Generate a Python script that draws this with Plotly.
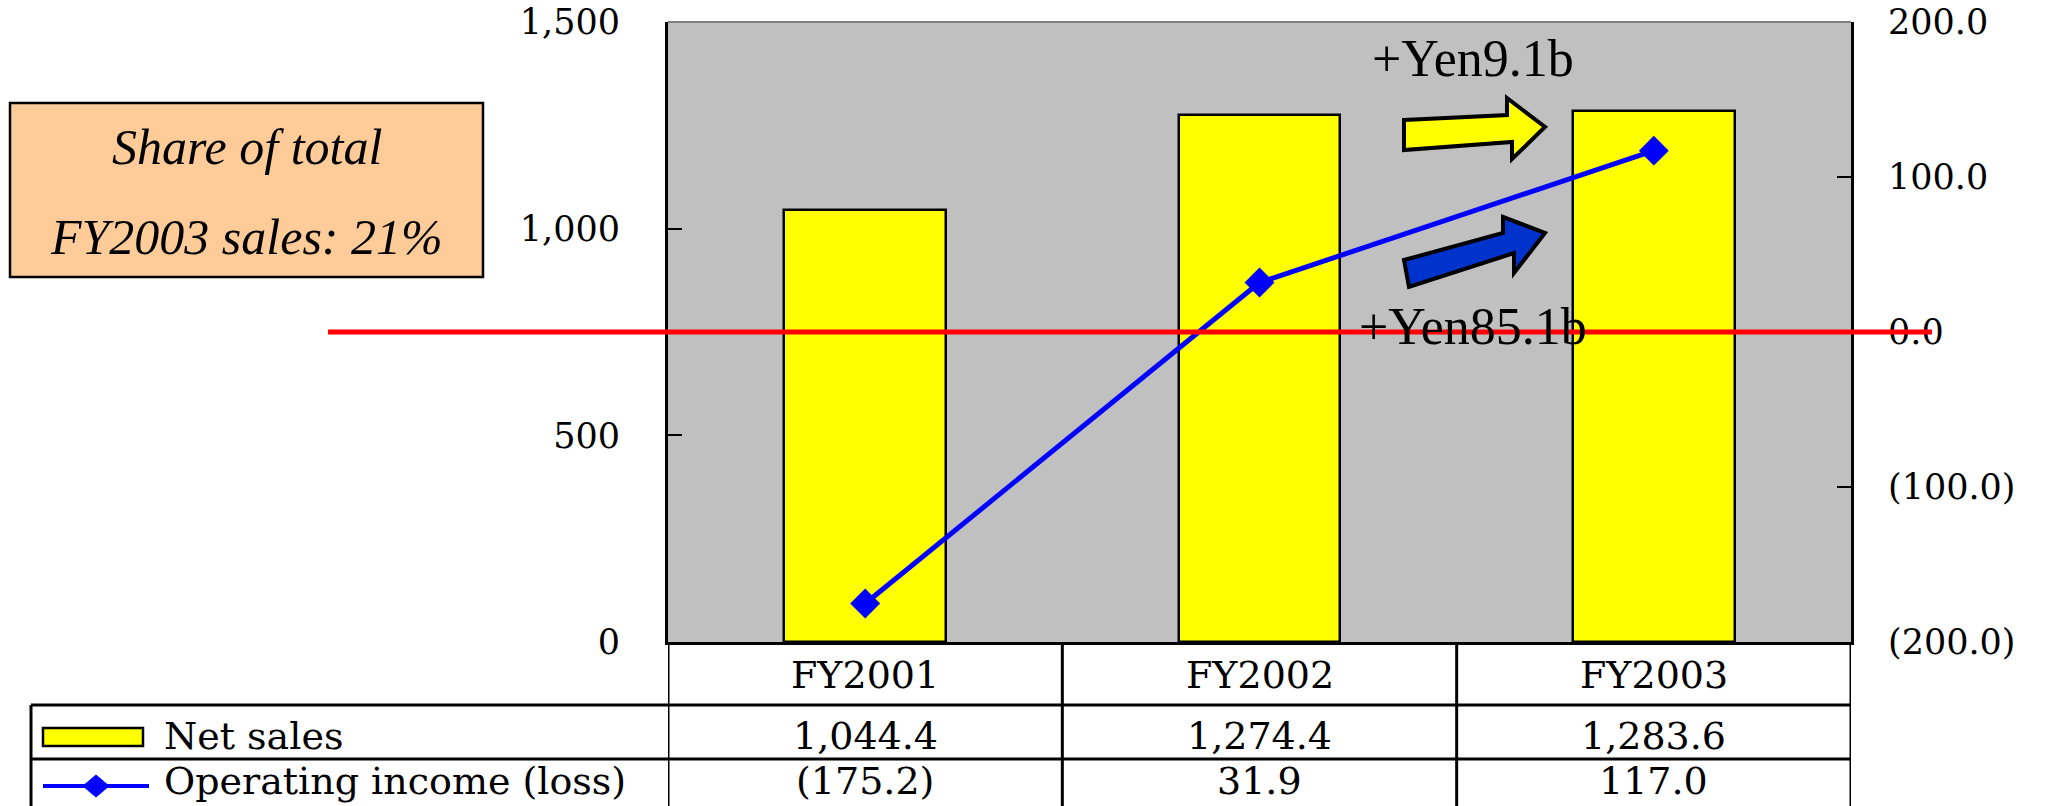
import plotly.graph_objects as go

# ---- data ----
fiscal_years = ["FY2001", "FY2002", "FY2003"]
net_sales = [1044.4, 1274.4, 1283.6]          # left axis (Yen b)
operating_income = [-175.2, 31.9, 117.0]      # right axis (Yen b)
sales_ticks = [0, 500, 1000, 1500]
income_ticks = [-200, -100, 0, 100, 200]
row_labels = ["Net sales", "Operating income (loss)"]
sales_change_label = "+Yen9.1b"
income_change_label = "+Yen85.1b"
share_note = ["Share of total", "FY2003 sales: 21%"]

# ---- page geometry (pixels) ----
W, H = 2051, 806
PL, PR, PT, PB = 668, 1851, 22, 642   # plot area edges


def paper(x, y):
    """Convert a page pixel position to paper coordinates."""
    return (x - PL) / (PR - PL), (PB - y) / (PB - PT)


def fmt_sales(v):
    return f"{v:,.1f}"


def fmt_income(v):
    return f"({abs(v):.1f})" if v < 0 else f"{v:.1f}"


SERIF = "DejaVu Serif"
TIMES = "Liberation Serif"
xs = list(range(len(fiscal_years)))

fig = go.Figure()
fig.add_trace(go.Bar(
    x=xs, y=net_sales, width=0.41, yaxis="y",
    marker=dict(color="#FFFF00", line=dict(color="black", width=2.5)),
    name=row_labels[0],
))
fig.add_trace(go.Scatter(
    x=xs, y=operating_income, yaxis="y2", mode="lines+markers",
    line=dict(color="#0000FF", width=5),
    marker=dict(symbol="diamond", size=23, color="#0000FF"),
    name=row_labels[1],
))

shapes = []
annotations = []

# plot frame top edge
shapes.append(dict(type="line", xref="paper", yref="paper", x0=0, x1=1, y0=1, y1=1,
                   line=dict(color="#808080", width=2), layer="above"))

# zero line of the income axis, running past the plot area
x0p, _ = paper(328, 0)
x1p, _ = paper(1932, 0)
shapes.append(dict(type="line", xref="paper", yref="y2", x0=x0p, x1=x1p, y0=0, y1=0,
                   line=dict(color="#FF0000", width=5), layer="above"))


def poly(points):
    pts = [paper(x, y) for x, y in points]
    return "M " + " L ".join(f"{a:.5f},{b:.5f}" for a, b in pts) + " Z"


# change arrows
shapes.append(dict(type="path", xref="paper", yref="paper", layer="above",
                   path=poly([(1404, 120), (1507, 115), (1507, 98), (1545, 127),
                              (1512, 159), (1512, 142), (1404, 150)]),
                   fillcolor="#FFFF00", line=dict(color="black", width=4)))
shapes.append(dict(type="path", xref="paper", yref="paper", layer="above",
                   path=poly([(1404, 260), (1503, 233), (1503, 217), (1545, 233),
                              (1514, 273), (1514, 253), (1409, 287)]),
                   fillcolor="#0033CC", line=dict(color="black", width=4)))

# share note box
bx0, by0 = paper(10, 103)
bx1, by1 = paper(483, 277)
shapes.append(dict(type="rect", xref="paper", yref="paper", x0=bx0, x1=bx1, y0=by1, y1=by0,
                   fillcolor="#FFCC99", line=dict(color="black", width=2.5), layer="above"))
for text, yy in zip(share_note, (147, 237)):
    ax, ay = paper(247, yy)
    annotations.append(dict(xref="paper", yref="paper", x=ax, y=ay, text=text,
                            showarrow=False, xanchor="center", yanchor="middle",
                            font=dict(family=TIMES, size=50, style="italic", color="black")))

# change labels
for text, yy in ((sales_change_label, 58), (income_change_label, 326)):
    ax, ay = paper(1473, yy)
    annotations.append(dict(xref="paper", yref="paper", x=ax, y=ay, text=text,
                            showarrow=False, xanchor="center", yanchor="middle",
                            font=dict(family=TIMES, size=52, color="black")))

# ---- data table under the chart ----
TABLE_LINE = dict(color="black", width=3)
_, y_head = paper(0, 642)
_, y_r1 = paper(0, 705)
_, y_r2 = paper(0, 759)
_, y_end = paper(0, 840)
tx_left, _ = paper(31, 0)

for yy in (y_r1, y_r2):
    shapes.append(dict(type="line", xref="paper", yref="paper", x0=tx_left, x1=1,
                       y0=yy, y1=yy, line=TABLE_LINE, layer="above"))
shapes.append(dict(type="line", xref="paper", yref="paper", x0=tx_left, x1=tx_left,
                   y0=y_r1, y1=y_end, line=TABLE_LINE, layer="above"))
for b in [i - 0.5 for i in range(len(fiscal_years) + 1)]:
    shapes.append(dict(type="line", xref="x", yref="paper", x0=b, x1=b,
                       y0=y_head, y1=y_end, line=TABLE_LINE, layer="above"))

_, y_txt_head = paper(0, 675)
_, y_txt_r1 = paper(0, 736)
_, y_txt_r2 = paper(0, 781)
cell_font = dict(family=SERIF, size=38, color="black")
for i, fy in enumerate(fiscal_years):
    for text, yy in ((fy, y_txt_head),
                     (fmt_sales(net_sales[i]), y_txt_r1),
                     (fmt_income(operating_income[i]), y_txt_r2)):
        annotations.append(dict(xref="x", yref="paper", x=i, y=yy, text=text,
                                showarrow=False, xanchor="center", yanchor="middle",
                                font=cell_font))

lab_x, _ = paper(162, 0)
for text, yy in zip(row_labels, (y_txt_r1, y_txt_r2)):
    annotations.append(dict(xref="paper", yref="paper", x=lab_x, y=yy, text=text,
                            showarrow=False, xanchor="left", yanchor="middle", font=cell_font))

# row keys
kx0, ky0 = paper(43, 728)
kx1, ky1 = paper(143, 746)
shapes.append(dict(type="rect", xref="paper", yref="paper", x0=kx0, x1=kx1, y0=ky1, y1=ky0,
                   fillcolor="#FFFF00", line=dict(color="black", width=2.5), layer="above"))
lx0, ly = paper(43, 786)
lx1, _ = paper(149, 786)
shapes.append(dict(type="line", xref="paper", yref="paper", x0=lx0, x1=lx1, y0=ly, y1=ly,
                   line=dict(color="#0000FF", width=4), layer="above"))
shapes.append(dict(type="path", xref="paper", yref="paper", layer="above",
                   path=poly([(83, 786), (96, 775), (109, 786), (96, 797)]),
                   fillcolor="#0000FF", line=dict(color="#0000FF", width=1)))

axis_font = dict(family=SERIF, size=35, color="black")
fig.update_layout(
    width=W, height=H,
    margin=dict(l=PL, r=W - PR, t=PT, b=H - PB, pad=0, autoexpand=False),
    paper_bgcolor="white", plot_bgcolor="#C0C0C0",
    showlegend=False, bargap=0,
    xaxis=dict(range=[-0.5, len(fiscal_years) - 0.5], showticklabels=False, ticks="",
               showline=True, linecolor="black", linewidth=3, showgrid=False, zeroline=False,
               automargin=False),
    yaxis=dict(range=[sales_ticks[0], sales_ticks[-1]], tickvals=sales_ticks,
               ticktext=[f"{v:,}" for v in sales_ticks],
               ticks="inside", ticklen=14, tickwidth=2, tickcolor="black",
               showline=True, linecolor="black", linewidth=3, showgrid=False, zeroline=False,
               tickfont=axis_font, ticklabelstandoff=38, automargin=False),
    yaxis2=dict(range=[income_ticks[0], income_ticks[-1]], tickvals=income_ticks,
                ticktext=[fmt_income(v) for v in income_ticks],
                overlaying="y", side="right",
                ticks="inside", ticklen=14, tickwidth=2, tickcolor="black",
                showline=True, linecolor="black", linewidth=3, showgrid=False, zeroline=False,
                tickfont=axis_font, ticklabelstandoff=27, automargin=False),
    shapes=shapes,
    annotations=annotations,
)

fig.write_html("out.html")
